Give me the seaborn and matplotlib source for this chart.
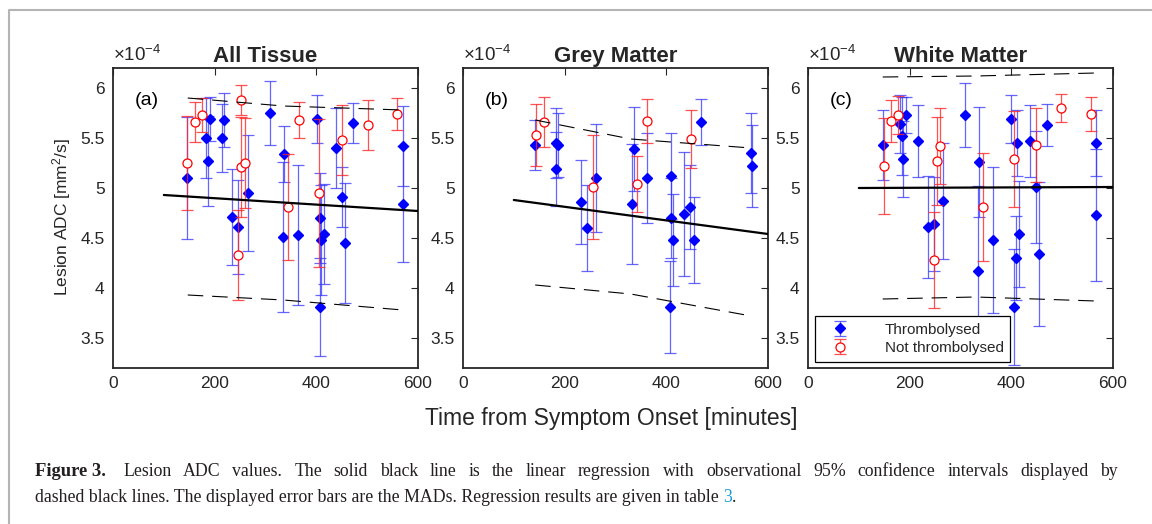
import matplotlib
matplotlib.use("Agg")
import matplotlib.pyplot as plt
import seaborn as sns
import numpy as np
from matplotlib.lines import Line2D

# ---- data (ADC in units of 1e-4 mm^2/s, time in minutes) ----
titles = ["All Tissue", "Grey Matter", "White Matter"]
panel_tags = ["(a)", "(b)", "(c)"]

a_thr_t = [146, 182, 186, 191, 214, 218, 235, 245, 266, 309, 336, 335, 363, 401, 408, 409, 408, 416, 438, 450, 457, 472, 570, 570]
a_thr_y = [5.10, 5.50, 5.27, 5.69, 5.50, 5.68, 4.71, 4.61, 4.95, 5.75, 5.34, 4.51, 4.53, 5.69, 4.70, 4.48, 3.81, 4.54, 5.40, 4.91, 4.45, 5.65, 5.42, 4.84]
a_thr_e = [0.61, 0.40, 0.45, 0.22, 0.34, 0.27, 0.48, 0.47, 0.58, 0.32, 0.28, 0.75, 0.70, 0.24, 0.45, 0.55, 0.49, 0.50, 0.40, 0.30, 0.60, 0.20, 0.40, 0.58]
a_not_t = [146, 161, 176, 245, 252, 252, 259, 345, 365, 406, 451, 501, 559]
a_not_y = [5.25, 5.66, 5.73, 4.33, 5.88, 5.21, 5.25, 4.81, 5.68, 4.95, 5.48, 5.63, 5.74]
a_not_e = [0.47, 0.20, 0.17, 0.45, 0.15, 0.50, 0.45, 0.53, 0.18, 0.74, 0.35, 0.25, 0.16]

b_thr_t = [142, 182, 182, 187, 233, 243, 262, 332, 336, 362, 407, 409, 409, 413, 435, 447, 454, 469, 567, 568]
b_thr_y = [5.43, 5.45, 5.19, 5.43, 4.86, 4.60, 5.10, 4.84, 5.39, 5.10, 3.81, 5.12, 4.70, 4.48, 4.74, 4.81, 4.48, 5.66, 5.35, 5.22]
b_thr_e = [0.25, 0.35, 0.37, 0.32, 0.42, 0.43, 0.54, 0.60, 0.42, 0.45, 0.46, 0.43, 0.40, 0.46, 0.62, 0.42, 0.43, 0.23, 0.40, 0.41]
b_not_t = [144, 159, 256, 342, 362, 448]
b_not_y = [5.53, 5.66, 5.01, 5.04, 5.67, 5.49]
b_not_e = [0.31, 0.25, 0.52, 0.28, 0.22, 0.29]

c_thr_t = [147, 181, 185, 187, 192, 216, 237, 247, 266, 308, 337, 335, 363, 399, 406, 410, 412, 415, 436, 449, 454, 471, 566, 567]
c_thr_y = [5.43, 5.64, 5.52, 5.29, 5.73, 5.47, 4.61, 4.64, 4.87, 5.73, 5.26, 4.17, 4.48, 5.69, 3.81, 4.30, 5.45, 4.54, 5.47, 5.01, 4.34, 5.63, 5.45, 4.73]
c_thr_e = [0.35, 0.29, 0.39, 0.38, 0.18, 0.36, 0.51, 0.47, 0.58, 0.32, 0.55, 0.85, 0.73, 0.24, 0.58, 0.42, 0.33, 0.53, 0.36, 0.56, 0.72, 0.21, 0.33, 0.66]
c_not_t = [149, 163, 177, 247, 253, 260, 344, 405, 449, 498, 556]
c_not_y = [5.22, 5.67, 5.73, 4.28, 5.27, 5.42, 4.81, 5.29, 5.43, 5.80, 5.74]
c_not_e = [0.48, 0.21, 0.19, 0.48, 0.44, 0.38, 0.54, 0.48, 0.37, 0.14, 0.17]

# regression fit (solid) and 95% observational bounds (dashed)
fit_t = [100, 600]
a_fit = [4.93, 4.77]
b_fit = [4.88, 4.54]
c_fit = [5.00, 5.01]
a_ci_t = [147, 335, 570]
a_ci_hi = [5.90, 5.82, 5.78]
a_ci_lo = [3.93, 3.88, 3.78]
b_ci_t = [142, 330, 567]
b_ci_hi = [5.68, 5.49, 5.40]
b_ci_lo = [4.03, 3.94, 3.72]
c_ci_t = [147, 330, 566]
c_ci_hi = [6.11, 6.12, 6.15]
c_ci_lo = [3.89, 3.91, 3.87]

panels = [
    (a_thr_t, a_thr_y, a_thr_e, a_not_t, a_not_y, a_not_e, a_fit, a_ci_t, a_ci_hi, a_ci_lo),
    (b_thr_t, b_thr_y, b_thr_e, b_not_t, b_not_y, b_not_e, b_fit, b_ci_t, b_ci_hi, b_ci_lo),
    (c_thr_t, c_thr_y, c_thr_e, c_not_t, c_not_y, c_not_e, c_fit, c_ci_t, c_ci_hi, c_ci_lo),
]

caption_line1 = ("Lesion ADC values. The solid black line is the linear regression with "
                 "observational 95% confidence intervals displayed by")
caption_line2 = "dashed black lines. The displayed error bars are the MADs. Regression results are given in table "

sns.set_style("white")
plt.rcParams['font.family'] = ['Liberation Sans', 'DejaVu Sans']
plt.rcParams['mathtext.default'] = 'regular'

W, H = 1152, 524
fig = plt.figure(figsize=(W / 100, H / 100), dpi=100)

ax_left = [113, 463, 808]
ax_w = 305
ax_top, ax_bot = 68, 368

axc = '#262626'
for i, p in enumerate(panels):
    thr_t, thr_y, thr_e, not_t, not_y, not_e, fit, ci_t, ci_hi, ci_lo = p
    ax = fig.add_axes([ax_left[i] / W, 1 - ax_bot / H, ax_w / W, (ax_bot - ax_top) / H])

    sns.lineplot(x=fit_t, y=fit, ax=ax, color='black', lw=1.6, zorder=5, legend=False)
    sns.lineplot(x=ci_t, y=ci_hi, ax=ax, color='black', lw=0.8, linestyle=(0, (14, 8)),
                 zorder=5, legend=False)
    sns.lineplot(x=ci_t, y=ci_lo, ax=ax, color='black', lw=0.8, linestyle=(0, (14, 8)),
                 zorder=5, legend=False)

    h1 = ax.errorbar(thr_t, thr_y, yerr=thr_e, fmt='D', color='#0000ff', ms=5.5,
                     ecolor=(0.2, 0.2, 1, 0.75), elinewidth=0.9, capsize=4, capthick=0.9,
                     label='Thrombolysed', zorder=3)
    h2 = ax.errorbar(not_t, not_y, yerr=not_e, fmt='o', color='#ff0000', mfc='white',
                     mec='#ff0000', ms=6.5, mew=0.9,
                     ecolor=(1, 0.15, 0.15, 0.8), elinewidth=0.9, capsize=4, capthick=0.9,
                     label='Not thrombolysed', zorder=4)

    ax.set_xlim(0, 600)
    ax.set_ylim(3.2, 6.2)
    ax.set_xticks([0, 200, 400, 600])
    ax.set_yticks([3.5, 4, 4.5, 5, 5.5, 6])
    ax.set_yticklabels(['3.5', '4', '4.5', '5', '5.5', '6'])
    ax.tick_params(direction='in', length=5, width=0.8, colors=axc, labelsize=12.5,
                   top=True, right=True, labelcolor='#262626', pad=6)
    for s in ax.spines.values():
        s.set_color(axc)
        s.set_linewidth(1.3)
    ax.set_title(titles[i], fontsize=16, fontweight='bold', pad=4)
    ax.text(0.0, 1.01, r'$\times10^{-4}$', transform=ax.transAxes, ha='left', va='bottom',
            fontsize=13.5, color='#262626')
    ax.text(0.07, 0.893, panel_tags[i], transform=ax.transAxes, ha='left', va='center',
            fontsize=14, color='black')
    ax.set_xlabel('')
    ax.set_ylabel('')
    if ax.get_legend() is not None:
        ax.get_legend().remove()
    if i == 2:
        leg = ax.legend(handles=[h1, h2], loc='lower left', bbox_to_anchor=(0.023, 0.02),
                        borderaxespad=0, fontsize=11, frameon=True, fancybox=False,
                        framealpha=1, edgecolor='black', handlelength=2.4, borderpad=0.45,
                        labelspacing=0.3, handletextpad=1.7)
        leg.get_frame().set_linewidth(0.9)
        leg.set_zorder(10)

fig.text(611 / W, 1 - 419 / H, 'Time from Symptom Onset [minutes]', ha='center', va='center',
         fontsize=16.5, color='#262626')
fig.text(62 / W, 1 - 217 / H, 'Lesion ADC [mm$^2$/s]', ha='center', va='center',
         rotation=90, fontsize=12.5, color='#262626')

# caption (line 1 justified between x=123 and x=1118)
serif = ['Liberation Serif', 'DejaVu Serif']
cap_col = '#231f20'
cap_fs = 12.8
y1, y2 = 1 - 471 / H, 1 - 497 / H
fig.text(35 / W, y1, 'Figure 3.', family=serif, fontweight='bold', fontsize=cap_fs + 0.6,
         ha='left', va='center', color=cap_col)
renderer = fig.canvas.get_renderer()
words = caption_line1.split(' ')
word_txt = [fig.text(0, y1, w, family=serif, fontsize=cap_fs, ha='left', va='center',
                     color=cap_col) for w in words]
widths = [t.get_window_extent(renderer).width for t in word_txt]
gap = (1118 - 123 - sum(widths)) / (len(words) - 1)
xpos = 123
for t, w in zip(word_txt, widths):
    t.set_x(xpos / W)
    xpos += w + gap
t2 = fig.text(35 / W, y2, caption_line2, family=serif, fontsize=cap_fs, ha='left',
              va='center', color=cap_col)
bb = t2.get_window_extent(renderer)
t3 = fig.text(bb.x1 / W, y2, '3', family=serif, fontsize=cap_fs, ha='left', va='center',
              color='#1a9bd7')
bb3 = t3.get_window_extent(renderer)
fig.text(bb3.x1 / W, y2, '.', family=serif, fontsize=cap_fs, ha='left', va='center',
         color=cap_col)

# page frame
fig.add_artist(Line2D([9 / W, 9 / W, 1.0], [0.0, 1 - 10 / H, 1 - 10 / H],
                      transform=fig.transFigure, color='#b4b4b4', lw=1.5))

fig.savefig('out.png', dpi=100)
